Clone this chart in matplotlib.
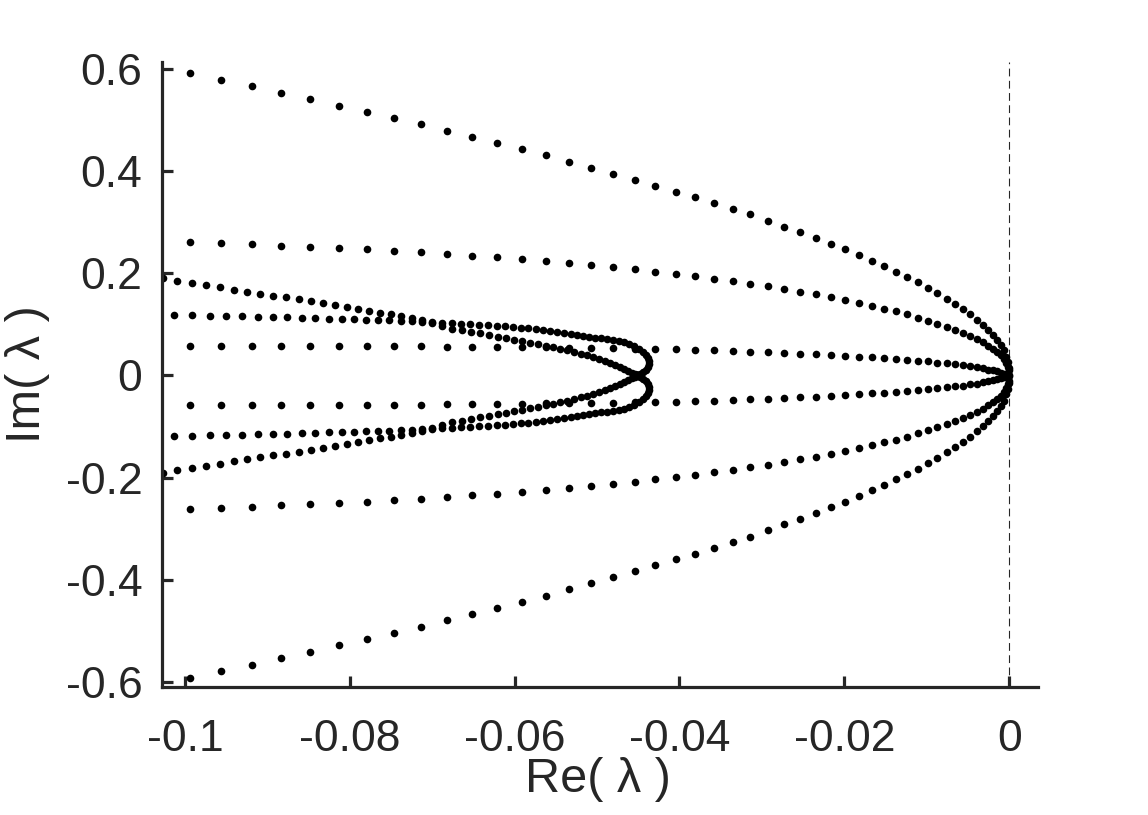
import numpy as np
import matplotlib.pyplot as plt

plt.rcParams['font.family'] = ['Liberation Sans', 'DejaVu Sans']

# eigenvalues, upper half plane only (the lower half is the complex conjugate)
# Re values in units of 1e-3, shared by the three outer branches
re_k = np.array([-99.39, -95.63, -91.87, -88.36, -84.84, -81.32, -77.93, -74.65, -71.38, -68.22,
                 -65.19, -62.16, -59.13, -56.22, -53.43, -50.76, -48.09, -45.42, -43.00, -40.45,
                 -38.14, -35.84, -33.54, -31.47, -29.29, -27.35, -25.41, -23.47, -21.65, -19.95,
                 -18.25, -16.68, -15.22, -13.77, -12.43, -11.10, -9.88, -8.79, -7.58, -6.61,
                 -5.64, -4.79, -3.94, -3.21, -2.61, -2.00, -1.52, -1.03, -0.67, -0.40, -0.19, -0.06]) * 1e-3

im_A = np.array([0.592, 0.578, 0.567, 0.553, 0.541, 0.527, 0.516, 0.504, 0.492, 0.478,
                 0.467, 0.455, 0.443, 0.432, 0.418, 0.406, 0.394, 0.383, 0.371, 0.359,
                 0.349, 0.338, 0.326, 0.316, 0.302, 0.291, 0.281, 0.269, 0.257, 0.248,
                 0.236, 0.224, 0.214, 0.203, 0.193, 0.183, 0.171, 0.161, 0.150, 0.140,
                 0.130, 0.120, 0.109, 0.099, 0.089, 0.079, 0.069, 0.060, 0.049, 0.037, 0.026, 0.015])

im_B = np.array([0.261, 0.259, 0.257, 0.253, 0.251, 0.250, 0.248, 0.244, 0.242, 0.238,
                 0.234, 0.232, 0.228, 0.224, 0.220, 0.216, 0.212, 0.208, 0.203, 0.199,
                 0.195, 0.189, 0.185, 0.179, 0.175, 0.169, 0.163, 0.159, 0.154, 0.148,
                 0.142, 0.136, 0.130, 0.126, 0.120, 0.113, 0.107, 0.101, 0.095, 0.089,
                 0.083, 0.077, 0.071, 0.066, 0.058, 0.052, 0.046, 0.040, 0.032, 0.025, 0.017, 0.010])

im_D = np.array([0.0577, 0.0577, 0.0577, 0.0577, 0.0577, 0.0577, 0.0577, 0.0577, 0.0577, 0.0558,
                 0.0558, 0.0558, 0.0558, 0.0548, 0.0538, 0.0538, 0.0538, 0.0528, 0.0519, 0.0519,
                 0.0499, 0.0499, 0.0479, 0.0460, 0.0460, 0.0440, 0.0421, 0.0421, 0.0401, 0.0382,
                 0.0362, 0.0352, 0.0342, 0.0323, 0.0303, 0.0284, 0.0274, 0.0254, 0.0235, 0.0215,
                 0.0196, 0.0176, 0.0157, 0.0137, 0.0117, 0.0098, 0.0078, 0.0049,
                 0.0031, 0.0020, 0.0010, 0.0004])

# branch that runs flat at Im~0.12 and turns round at the tip of the loop
re_E = np.array([-101.33, -99.15, -96.97, -95.03, -93.09, -91.15, -89.33, -87.63, -85.81, -84.23,
                 -82.53, -80.96, -79.50, -78.05, -76.59, -75.26, -73.80, -72.47, -71.26, -70.04,
                 -68.83, -67.62, -66.53, -65.43, -64.34, -63.25, -62.16, -61.19, -60.22, -59.25,
                 -58.40, -57.43, -56.58, -55.73, -54.88, -54.03, -53.18, -52.46, -51.73, -51.00,
                 -50.27, -49.55, -48.82, -48.09, -47.36, -46.76, -46.15, -45.54, -44.94, -44.45,
                 -44.09, -43.84, -43.72, -43.72, -43.84, -44.09, -44.45, -44.82, -45.18]) * 1e-3
im_E = np.array([0.1184, 0.1184, 0.1164, 0.1164, 0.1164, 0.1145, 0.1145, 0.1145, 0.1125, 0.1125,
                 0.1106, 0.1106, 0.1106, 0.1086, 0.1086, 0.1086, 0.1067, 0.1067, 0.1047, 0.1047,
                 0.1027, 0.1027, 0.1008, 0.1008, 0.0988, 0.0988, 0.0969, 0.0969, 0.0949, 0.0930,
                 0.0930, 0.0910, 0.0890, 0.0871, 0.0851, 0.0832, 0.0812, 0.0793, 0.0773, 0.0753,
                 0.0734, 0.0724, 0.0714, 0.0695, 0.0675, 0.0656, 0.0616, 0.0577, 0.0519, 0.0460,
                 0.0401, 0.0342, 0.0284, 0.0225, 0.0166, 0.0108, 0.0068, 0.0029, 0.0])

# branch that starts at Im~0.19 and dives to the crossing on the real axis
re_F = np.array([-102.67, -100.97, -99.15, -97.45, -95.75, -94.06, -92.48, -90.90, -89.33, -87.75,
                 -86.17, -84.72, -83.26, -81.81, -80.35, -79.02, -77.68, -76.35, -75.01, -73.80,
                 -72.47, -71.26, -70.04, -68.83, -67.62, -66.40, -65.31, -64.22, -63.13, -62.04,
                 -61.07, -60.10, -59.13, -58.16, -57.19, -56.22, -55.37, -54.52, -53.67, -52.82,
                 -51.97, -51.24, -50.52, -49.79, -49.06, -48.45, -47.85, -47.24, -46.76, -46.27,
                 -45.79, -45.42, -45.18]) * 1e-3
im_F = np.array([0.1908, 0.1849, 0.1810, 0.1771, 0.1732, 0.1673, 0.1634, 0.1595, 0.1556, 0.1536,
                 0.1497, 0.1458, 0.1419, 0.1380, 0.1341, 0.1301, 0.1262, 0.1223, 0.1204, 0.1164,
                 0.1125, 0.1086, 0.1027, 0.0969, 0.0910, 0.0890, 0.0851, 0.0822, 0.0793, 0.0753,
                 0.0734, 0.0695, 0.0675, 0.0636, 0.0616, 0.0577, 0.0558, 0.0519, 0.0499, 0.0460,
                 0.0421, 0.0401, 0.0362, 0.0323, 0.0284, 0.0245, 0.0205, 0.0166, 0.0127, 0.0088,
                 0.0049, 0.0020, 0.0])

branches = [(re_k, im_A), (re_k, im_B), (re_k, im_D), (re_E, im_E), (re_F, im_F)]

xticks = [-0.1, -0.08, -0.06, -0.04, -0.02, 0]
xlabels = ['-0.1', '-0.08', '-0.06', '-0.04', '-0.02', '0']
yticks = [-0.6, -0.4, -0.2, 0, 0.2, 0.4, 0.6]
ylabels = ['-0.6', '-0.4', '-0.2', '0', '0.2', '0.4', '0.6']

axcol = '#262626'

fig = plt.figure(figsize=(11.48, 8.15), dpi=100)
ax = fig.add_axes([0.1409, 0.1574, 0.7633, 0.7669])

ax.axvline(0, color=axcol, lw=0.8, ls=(0, (7, 4)), zorder=1)
for re, im in branches:
    ax.plot(np.concatenate([re, re]), np.concatenate([im, -im]), 'o',
            ms=5.5, color='k', mec='none', zorder=2)

ax.set_xlim(-0.1028, 0.0035)
ax.set_ylim(-0.609, 0.614)
ax.spines['top'].set_visible(False)
ax.spines['right'].set_visible(False)
for s in ['left', 'bottom']:
    ax.spines[s].set_linewidth(2.3)
    ax.spines[s].set_color(axcol)

ax.set_xticks(xticks)
ax.set_xticklabels(xlabels)
ax.set_yticks(yticks)
ax.set_yticklabels(ylabels)
ax.tick_params(direction='in', length=8, width=2.3, labelsize=32, colors=axcol)
ax.tick_params(axis='x', pad=23)
ax.tick_params(axis='y', pad=14)

ax.set_xlabel('Re( λ )', fontsize=35, color=axcol)
ax.set_ylabel('Im( λ )', fontsize=35, color=axcol)
ax.xaxis.set_label_coords(0.498, -0.112)
ax.yaxis.set_label_coords(-0.128, 0.5)

fig.savefig('out.png', dpi=100)
